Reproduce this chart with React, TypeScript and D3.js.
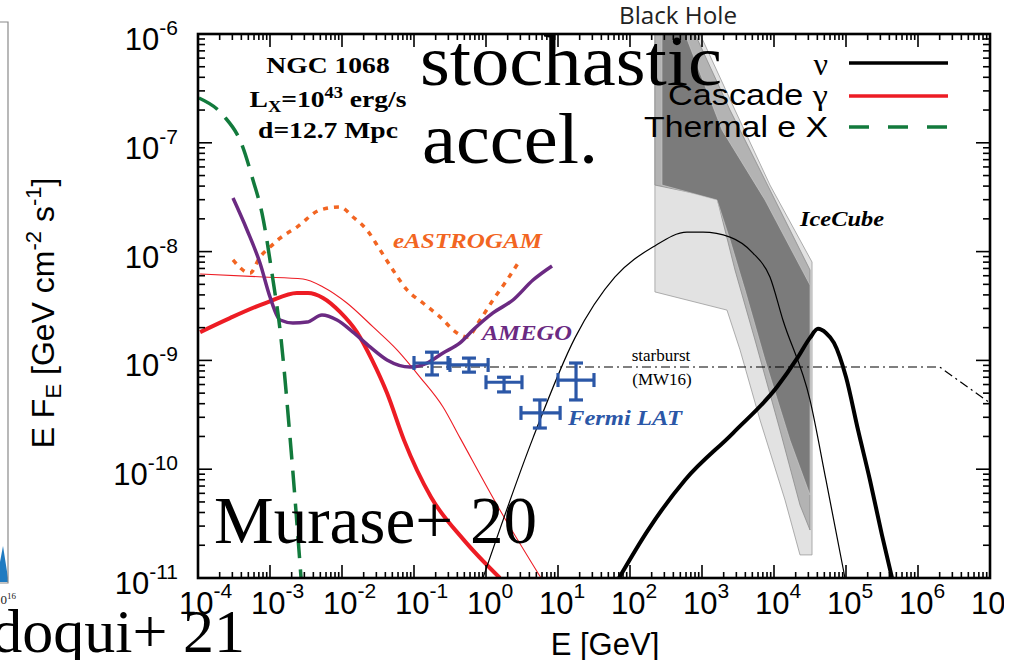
import * as React from "react";
import * as d3 from "d3";

type Pt = [number, number];

// ---- data (E in GeV, E F_E in GeV cm^-2 s^-1) ----
const thermalX: Pt[] = [
  [1.03e-4, 2.58e-7], [2.22e-4, 1.8e-7], [4.08e-4, 9.55e-8], [5.8e-4, 4.55e-8],
  [7.74e-4, 2.26e-8], [1.1e-3, 5.48e-9], [1.38e-3, 1.9e-9], [1.9e-3, 1.94e-10], [2.7e-3, 1e-11],
];

const cascadeThick: Pt[] = [
  [1.07e-4, 1.82e-9], [2.78e-4, 2.45e-9], [9.38e-4, 3.44e-9], [2.37e-3, 4.16e-9], [3.37e-3, 4.16e-9],
  [5.45e-3, 3.75e-9], [9.38e-3, 2.79e-9], [1.61e-2, 1.82e-9], [2.61e-2, 1.01e-9], [4.22e-2, 5.01e-10],
  [7.26e-2, 1.85e-10], [0.172, 5.55e-11], [0.494, 2.23e-11], [1.56, 1e-11],
];

const cascadeThin: Pt[] = [
  [1.07e-4, 6.22e-9], [8.0e-4, 5.85e-9], [2.87e-3, 5.6e-9], [5.45e-3, 4.73e-9], [1.17e-2, 3.37e-9],
  [2.7e-2, 2.03e-9], [5.81e-2, 1.25e-9], [0.121, 7.03e-10], [0.253, 3.73e-10], [0.436, 1.94e-10],
  [1.56, 4.22e-11], [5.81, 1e-11],
];

const amego: Pt[] = [
  [3.06e-4, 3.11e-8], [4.8e-4, 1.58e-8], [7.26e-4, 7.85e-9], [1.0e-3, 3.83e-9], [1.38e-3, 2.35e-9],
  [2.08e-3, 2.21e-9], [3.27e-3, 2.25e-9], [5.27e-3, 2.61e-9], [8.53e-3, 2.35e-9], [1.42e-2, 1.82e-9],
  [2.45e-2, 1.33e-9], [4.22e-2, 1.01e-9], [8.79e-2, 8.69e-10], [0.152, 9.46e-10], [0.253, 1.17e-9],
  [0.436, 1.45e-9], [0.659, 1.9e-9], [1.25, 2.73e-9], [2.37, 3.59e-9], [4.5, 5.48e-9], [8.26, 7.38e-9],
];

const eastrogam: Pt[] = [
  [3.06e-4, 8.38e-9], [5.27e-4, 6.35e-9], [7.26e-4, 8.91e-9], [1.0e-3, 1.1e-8], [1.38e-3, 1.33e-8],
  [2.37e-3, 1.68e-8], [4.94e-3, 2.41e-8], [9.38e-3, 2.57e-8], [1.42e-2, 2.08e-8], [2.22e-2, 1.58e-8],
  [3.37e-2, 1.04e-8], [5.1e-2, 6.78e-9], [8.0e-2, 4.44e-9], [0.133, 3.37e-9], [0.23, 2.51e-9],
  [0.395, 1.79e-9], [0.545, 1.64e-9], [0.826, 2.35e-9], [1.25, 3.59e-9], [1.96, 5.48e-9], [2.97, 8.38e-9],
];

const nuThin: Pt[] = [
  [0.908, 1e-11], [4.5, 1.94e-10], [17.2, 1.61e-9], [61.9, 5.85e-9], [208, 1.1e-8], [619, 1.51e-8],
  [1033, 1.51e-8], [2449, 1.36e-8], [5105, 9.7e-9], [8790, 5.85e-9], [1.33e4, 2.35e-9],
  [3.16e4, 4.33e-10], [5.27e4, 7.96e-11], [9.68e4, 1e-11],
];

const nuThick: Pt[] = [
  [70.3, 1e-11], [178, 2.76e-11], [581, 7.96e-11], [2698, 2.15e-10], [1.1e4, 5.7e-10],
  [2.15e4, 1.07e-9], [3.16e4, 1.61e-9], [4.08e4, 1.95e-9], [5.27e4, 1.79e-9], [6.81e4, 1.45e-9],
  [1e5, 7.03e-10], [1.47e5, 2.29e-10], [2.15e5, 7.96e-11], [3.16e5, 2.48e-11], [4.36e5, 1e-11],
];

const starburst: Pt[] = [[0.1, 8.7e-10], [2.0e6, 8.7e-10], [1e7, 4.06e-10]];

// Fermi LAT points: E, Elo, Ehi, F, Flo, Fhi
const fermiE = [0.178, 0.58, 1.78, 5.6, 17.8];
const fermiElo = [0.1, 0.316, 1.0, 3.06, 10];
const fermiEhi = [0.297, 1.07, 3.16, 10.7, 31.6];
const fermiF = [9.46e-10, 9.08e-10, 6.3e-10, 3.29e-10, 6.6e-10];
const fermiFlo = [7.35e-10, 7.8e-10, 5.13e-10, 2.39e-10, 4.33e-10];
const fermiFhi = [1.19e-9, 1.05e-9, 7.0e-10, 4.33e-10, 9.46e-10];

// IceCube bands (outlines)
const iceLight: Pt[] = [
  [222, 1e-6], [938, 1e-6], [2871, 2.0e-7], [8790, 4.09e-8], [33729, 8.02e-9], [33729, 1.63e-11],
  [22961, 1.63e-11], [14223, 5.21e-11], [6397, 2.83e-10], [3373, 1.25e-9], [2223, 2.9e-9], [222, 4.26e-9],
];
const iceMid: Pt[] = [
  [222, 1e-6], [800, 1e-6], [2449, 2.0e-7], [7499, 4.55e-8], [31623, 6.78e-9], [31623, 2.76e-11],
  [22961, 4.69e-11], [12106, 2.29e-10], [5445, 1.54e-9], [2871, 6.78e-9], [1614, 3.11e-8], [222, 4.09e-8],
];
const iceDark: Pt[] = [
  [278, 1e-6], [581, 1e-6], [1897, 1.31e-7], [7499, 2.98e-8], [31623, 4.93e-9], [31623, 5.79e-11],
  [16672, 1.85e-10], [7499, 1.01e-9], [3954, 4.44e-9], [2449, 1.28e-8], [1614, 2.98e-8], [278, 4.09e-8],
];

const xTickExps = [-4, -3, -2, -1, 0, 1, 2, 3, 4, 5, 6, 7];
const yTickExps = [-6, -7, -8, -9, -10, -11];

// ---- layout ----
const W = 1026;
const H = 660;
const plot = { left: 198, right: 990, top: 34, bottom: 578 };

const xScale = d3.scaleLog().domain([1e-4, 1e7]).range([plot.left, plot.right]);
const yScale = d3.scaleLog().domain([1e-11, 1e-6]).range([plot.bottom, plot.top]);

const line = d3
  .line<Pt>()
  .x((d) => xScale(d[0]))
  .y((d) => yScale(d[1]))
  .curve(d3.curveMonotoneX);
const poly = d3
  .line<Pt>()
  .x((d) => xScale(d[0]))
  .y((d) => yScale(d[1]))
  .curve(d3.curveLinearClosed);
const straight = d3
  .line<Pt>()
  .x((d) => xScale(d[0]))
  .y((d) => yScale(d[1]));

const minorTicks = (lo: number, hi: number) => {
  const out: { v: number; major: boolean }[] = [];
  for (let e = lo; e < hi; e++) for (let k = 1; k < 10; k++) out.push({ v: k * Math.pow(10, e), major: k === 1 });
  out.push({ v: Math.pow(10, hi), major: true });
  return out;
};

const RED = "#ed1c24";
const GREEN = "#127a3c";
const PURPLE = "#6b2a82";
const ORANGE = "#f26522";
const BLUE = "#2b57a7";
const SANS = "'Liberation Sans', Arial, sans-serif";
const SERIF = "'Liberation Serif', 'Times New Roman', serif";

export default function App() {
  const xt = minorTicks(-4, 7);
  const yt = minorTicks(-11, -6);

  return (
    <svg
      width={W}
      height={H}
      viewBox={`0 0 ${W} ${H}`}
      style={{ position: "fixed", left: 0, top: 0, background: "#fff" }}
    >
      <defs>
        <clipPath id="plotClip">
          <rect x={plot.left} y={plot.top - 3} width={plot.right - plot.left} height={plot.bottom - plot.top + 3} />
        </clipPath>
        <clipPath id="pageClip">
          <rect x={0} y={0} width={1004} height={H} />
        </clipPath>
      </defs>
      <rect x={0} y={0} width={W} height={H} fill="#fff" />

      {/* sliver of the neighbouring panel */}
      <g>
        <path d="M0,582 L0,562 L3,546 L8,578 L8,582 Z" fill="#1f7bc1" />
        <path d="M0,22 H8 V583 H0" fill="none" stroke="#8a8a8a" strokeWidth={1.2} />
        <text x={-6} y={604} fontFamily={SERIF} fontSize={13} fill="#222">
          10<tspan dy={-5} fontSize={9}>16</tspan>
        </text>
        <text x={245} y={652} textAnchor="end" fontFamily={SERIF} fontSize={62} fill="#000">
          doqui+ 21
        </text>
      </g>

      <text x={619} y={24} fontFamily="'Open Sans', sans-serif" fontSize={23} fill="#222" textLength={118} lengthAdjust="spacingAndGlyphs">
        Black Hole
      </text>

      <g clipPath="url(#plotClip)">
        {/* IceCube bands */}
        <path d={poly(iceLight) ?? ""} fill="#e2e2e2" stroke="#9a9a9a" strokeWidth={0.8} />
        <path d={poly(iceMid) ?? ""} fill="#b3b3b3" stroke="#8c8c8c" strokeWidth={0.8} />
        <path d={poly(iceDark) ?? ""} fill="#7b7b7b" stroke="#cfcfcf" strokeWidth={0.6} />

        {/* starburst */}
        <path d={straight(starburst) ?? ""} fill="none" stroke="#000" strokeWidth={1.2} strokeDasharray="9 4 2 4" />

        {/* models */}
        <path d={line(cascadeThin) ?? ""} fill="none" stroke={RED} strokeWidth={1.1} />
        <path d={line(cascadeThick) ?? ""} fill="none" stroke={RED} strokeWidth={4} />
        <path d={line(eastrogam) ?? ""} fill="none" stroke={ORANGE} strokeWidth={3.5} strokeDasharray="5 6" />
        <path d={line(amego) ?? ""} fill="none" stroke={PURPLE} strokeWidth={3.5} />
        <path d={line(thermalX) ?? ""} fill="none" stroke={GREEN} strokeWidth={3.5} strokeDasharray="22 11" />
        <path d={line(nuThin) ?? ""} fill="none" stroke="#000" strokeWidth={1.2} />
        <path d={line(nuThick) ?? ""} fill="none" stroke="#000" strokeWidth={4} />

        {/* Fermi LAT */}
        {fermiE.map((e, i) => {
          const cx = xScale(e);
          const cy = yScale(fermiF[i]);
          const x0 = xScale(fermiElo[i]);
          const x1 = xScale(fermiEhi[i]);
          const y0 = yScale(fermiFlo[i]);
          const y1 = yScale(fermiFhi[i]);
          return (
            <g key={i} stroke={BLUE} strokeWidth={3.2} fill="none">
              <line x1={x0} y1={cy} x2={x1} y2={cy} />
              <line x1={x0} y1={cy - 7} x2={x0} y2={cy + 7} />
              <line x1={x1} y1={cy - 7} x2={x1} y2={cy + 7} />
              <line x1={cx} y1={y0} x2={cx} y2={y1} />
              <line x1={cx - 7} y1={y0} x2={cx + 7} y2={y0} />
              <line x1={cx - 7} y1={y1} x2={cx + 7} y2={y1} />
            </g>
          );
        })}
      </g>

      {/* labels inside the plot */}
      <g fontFamily={SERIF} fontWeight="bold" fontStyle="italic" fontSize={21}>
        <text x={393} y={248} fill={ORANGE} textLength={149} lengthAdjust="spacingAndGlyphs">eASTROGAM</text>
        <text x={482} y={340} fill={PURPLE} textLength={90} lengthAdjust="spacingAndGlyphs">AMEGO</text>
        <text x={568} y={425} fill={BLUE} textLength={114} lengthAdjust="spacingAndGlyphs">Fermi LAT</text>
        <text x={800} y={226} fill="#000" textLength={84} lengthAdjust="spacingAndGlyphs">IceCube</text>
      </g>
      <g fontFamily={SERIF} fontSize={17} fill="#000" textAnchor="middle">
        <text x={661} y={361}>starburst</text>
        <text x={662} y={385}>(MW16)</text>
      </g>

      <g transform="translate(328,0) scale(1.15,1)" fontFamily={SERIF} fontWeight="bold" fontSize={24} textAnchor="middle" fill="#000">
        <text x={0} y={73}>NGC 1068</text>
        <text x={0} y={107}>
          L<tspan dy={5} fontSize={16}>X</tspan>
          <tspan dy={-5}>=10</tspan>
          <tspan dy={-9} fontSize={16}>43</tspan>
          <tspan dy={9}> erg/s</tspan>
        </text>
        <text x={0} y={138}>d=12.7 Mpc</text>
      </g>

      {/* legend */}
      <g fontFamily={SANS} fontSize={30} fill="#000" textAnchor="end">
        <text x={828} y={75} fontFamily={SERIF} fontSize={32}>ν</text>
        <text x={828} y={105} textLength={160} lengthAdjust="spacingAndGlyphs">
          Cascade <tspan fontFamily={SERIF}>γ</tspan>
        </text>
        <text x={828} y={137} textLength={184} lengthAdjust="spacingAndGlyphs">Thermal e X</text>
      </g>
      <line x1={849} y1={63} x2={948} y2={63} stroke="#000" strokeWidth={3.5} />
      <line x1={849} y1={96} x2={948} y2={96} stroke={RED} strokeWidth={3.5} />
      <line x1={849} y1={127} x2={948} y2={127} stroke={GREEN} strokeWidth={3.5} strokeDasharray="20 19" />

      {/* frame and ticks */}
      <g stroke="#000" strokeWidth={1.6}>
        {xt.map((t, i) => {
          const x = xScale(t.v);
          const len = t.major ? 13 : 6;
          return (
            <g key={"x" + i}>
              <line x1={x} y1={plot.bottom} x2={x} y2={plot.bottom - len} />
              <line x1={x} y1={plot.top} x2={x} y2={plot.top + len} />
            </g>
          );
        })}
        {yt.map((t, i) => {
          const y = yScale(t.v);
          const len = t.major ? 14 : 7;
          return (
            <g key={"y" + i}>
              <line x1={plot.left} y1={y} x2={plot.left + len} y2={y} />
              <line x1={plot.right} y1={y} x2={plot.right - len} y2={y} />
            </g>
          );
        })}
      </g>
      <rect
        x={plot.left}
        y={plot.top}
        width={plot.right - plot.left}
        height={plot.bottom - plot.top}
        fill="none"
        stroke="#000"
        strokeWidth={2.6}
      />

      {/* tick labels */}
      <g fontFamily={SANS} fill="#000" clipPath="url(#pageClip)">
        {xTickExps.map((e) => (
          <text key={"xl" + e} x={xScale(Math.pow(10, e)) - 19} y={614} fontSize={31}>
            10<tspan dy={-16} fontSize={21}>{e}</tspan>
          </text>
        ))}
        {yTickExps.map((e) => (
          <text key={"yl" + e} x={178} y={yScale(Math.pow(10, e)) + 16} fontSize={31} textAnchor="end">
            10<tspan dy={-15} fontSize={21}>{e}</tspan>
          </text>
        ))}
      </g>

      {/* axis titles */}
      <text x={605} y={655} textAnchor="middle" fontFamily={SANS} fontSize={31} fill="#000">
        E [GeV]
      </text>
      <text transform="translate(54,313) rotate(-90)" textAnchor="middle" fontFamily={SANS} fontSize={32} fill="#000">
        E F<tspan dy={7} fontSize={22}>E</tspan>
        <tspan dy={-7}> [GeV cm</tspan>
        <tspan dy={-13} fontSize={22}>-2</tspan>
        <tspan dy={13}> s</tspan>
        <tspan dy={-13} fontSize={22}>-1</tspan>
        <tspan dy={13}>]</tspan>
      </text>

      {/* overlaid annotations */}
      <g fontFamily={SERIF} fill="#000">
        <text x={420} y={85} fontSize={72} textLength={302} lengthAdjust="spacingAndGlyphs">stochastic</text>
        <text x={422} y={163} fontSize={72} textLength={176} lengthAdjust="spacingAndGlyphs">accel.</text>
        <text x={214} y={543} fontSize={68} textLength={323} lengthAdjust="spacingAndGlyphs">Murase+ 20</text>
      </g>
    </svg>
  );
}
